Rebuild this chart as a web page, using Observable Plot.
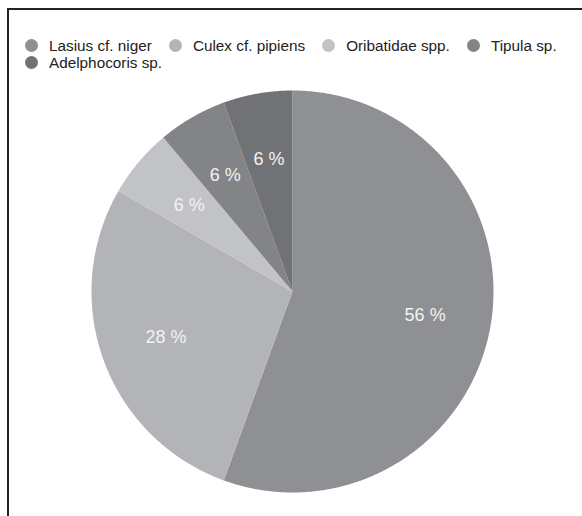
<!DOCTYPE html>
<html>
<head>
<meta charset="utf-8">
<script src="https://cdn.jsdelivr.net/npm/d3@7"></script>
<script src="https://cdn.jsdelivr.net/npm/@observablehq/plot@0.6"></script>
<style>
  html, body { margin: 0; padding: 0; background: #fff; }
  #wrap { position: relative; width: 582px; height: 516px; overflow: hidden; font-family: "Liberation Sans", Arial, Helvetica, sans-serif; }
  #frame { position: absolute; left: 7px; top: 8px; width: 600px; height: 600px; border-left: 2px solid #222; border-top: 2px solid #222; box-sizing: border-box; }
  #chart { position: absolute; left: 0; top: 0; }
  #legend { position: absolute; left: 25px; top: 37px; width: 600px; display: flex; flex-wrap: wrap; column-gap: 17px; font-size: 15.3px; color: #222; line-height: 17px; }
  .item { display: inline-flex; align-items: center; height: 17px; white-space: nowrap; }
  .brk { flex-basis: 100%; height: 0; }
  .dot { width: 13px; height: 13px; border-radius: 50%; margin-right: 11px; flex: none; }
</style>
</head>
<body>
<div id="wrap">
  <div id="frame"></div>
  <div id="chart"></div>
  <div id="legend"></div>
</div>
<script>
const species = ["Lasius cf. niger", "Culex cf. pipiens", "Oribatidae spp.", "Tipula sp.", "Adelphocoris sp."];
const counts = [10, 5, 1, 1, 1];
const pctLabels = ["56 %", "28 %", "6 %", "6 %", "6 %"];
const colors = ["#8f9094", "#b3b4b7", "#c2c3c6", "#838488", "#717276"];

const arcs = d3.pie().sort(null)(counts);
const pts = [];
arcs.forEach((a, i) => {
  const n = Math.max(4, Math.ceil((a.endAngle - a.startAngle) / 0.01));
  pts.push({s: species[i], x: 0, y: 0});
  for (let k = 0; k <= n; k++) {
    const t = a.startAngle + (a.endAngle - a.startAngle) * k / n;
    pts.push({s: species[i], x: Math.sin(t), y: Math.cos(t)});
  }
  pts.push({s: species[i], x: 0, y: 0});
});
const labelR = 0.67;
const labs = arcs.map((a, i) => {
  const m = (a.startAngle + a.endAngle) / 2;
  return {s: species[i], label: pctLabels[i], x: labelR * Math.sin(m), y: labelR * Math.cos(m)};
});

const W = 582, H = 516, cx = 292, cy = 291, R = 201;
const chart = Plot.plot({
  width: W, height: H, margin: 0,
  x: {domain: [-cx / R, (W - cx) / R], range: [0, W], axis: null},
  y: {domain: [-(H - cy) / R, cy / R], range: [H, 0], axis: null},
  color: {domain: species, range: colors},
  marks: [
    Plot.line(pts, {x: "x", y: "y", z: "s", fill: "s", stroke: "none", curve: "linear"}),
    Plot.text(labs, {x: "x", y: "y", text: "label", fill: "#f2f2f2", fontSize: 18, fontFamily: "Liberation Sans, Arial, sans-serif"})
  ],
  style: {background: "transparent"}
});
document.getElementById("chart").appendChild(chart);

const leg = document.getElementById("legend");
species.forEach((s, i) => {
  if (i === 4) {
    const b = document.createElement("div");
    b.className = "brk";
    leg.appendChild(b);
  }
  const it = document.createElement("span");
  it.className = "item";
  const d = document.createElement("span");
  d.className = "dot";
  d.style.background = colors[i];
  it.appendChild(d);
  it.appendChild(document.createTextNode(s));
  leg.appendChild(it);
});
</script>
</body>
</html>
